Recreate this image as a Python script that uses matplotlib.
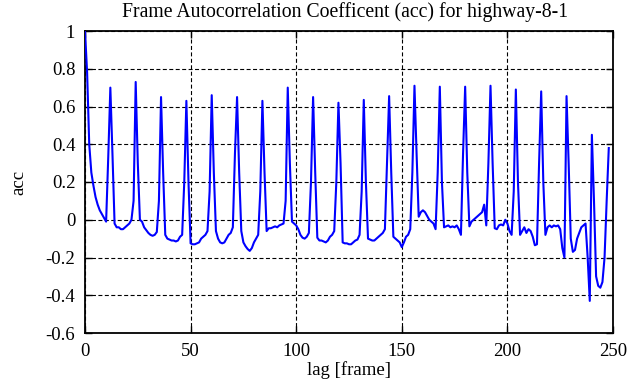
import matplotlib
matplotlib.use("Agg")
import matplotlib.pyplot as plt
from matplotlib.ticker import FuncFormatter

title = "Frame Autocorrelation Coefficent (acc) for highway-8-1"
xlabel = "lag [frame]"
ylabel = "acc"
xticks = [0, 50, 100, 150, 200, 250]
yticks = [-0.6, -0.4, -0.2, 0, 0.2, 0.4, 0.6, 0.8, 1]

# acc values for lag 0..248
acc = [
    1.00, 0.78, 0.40, 0.25, 0.18, 0.12, 0.08, 0.05, 0.03, 0.01, -0.01, 0.33,
    0.70, 0.35, -0.02, -0.04, -0.04, -0.05, -0.05, -0.04, -0.03, -0.02, 0.00, 0.10,
    0.73, 0.30, 0.00, -0.01, -0.04, -0.055, -0.07, -0.08, -0.085, -0.08, -0.065, 0.10,
    0.65, 0.25, -0.08, -0.10, -0.105, -0.11, -0.11, -0.115, -0.11, -0.09, -0.08, 0.20,
    0.63, 0.20, -0.125, -0.13, -0.13, -0.125, -0.12, -0.10, -0.09, -0.08, -0.06, 0.15,
    0.66, 0.25, -0.06, -0.10, -0.12, -0.125, -0.12, -0.10, -0.08, -0.07, -0.04, 0.35,
    0.65, 0.25, -0.06, -0.12, -0.14, -0.155, -0.165, -0.15, -0.12, -0.10, -0.08, 0.15,
    0.63, 0.25, -0.06, -0.045, -0.045, -0.04, -0.035, -0.04, -0.03, -0.025, -0.02, 0.10,
    0.70, 0.30, -0.01, -0.02, -0.03, -0.05, -0.08, -0.095, -0.10, -0.09, -0.07, 0.20,
    0.65, 0.25, -0.095, -0.11, -0.11, -0.115, -0.12, -0.11, -0.09, -0.08, -0.06, 0.20,
    0.62, 0.30, -0.12, -0.125, -0.125, -0.13, -0.13, -0.12, -0.11, -0.105, -0.08, 0.15,
    0.635, 0.20, -0.10, -0.105, -0.11, -0.11, -0.10, -0.09, -0.08, -0.07, -0.05, 0.30,
    0.655, 0.25, -0.09, -0.10, -0.11, -0.12, -0.145, -0.12, -0.09, -0.08, -0.05, 0.25,
    0.71, 0.35, 0.016, 0.04, 0.05, 0.04, 0.02, 0.00, -0.01, -0.02, -0.05, 0.25,
    0.705, 0.20, -0.04, -0.035, -0.03, -0.04, -0.035, -0.04, -0.03, -0.05, -0.08, 0.35,
    0.705, 0.25, -0.035, -0.01, 0.00, 0.01, 0.02, 0.03, 0.04, 0.08, -0.03, 0.30,
    0.71, 0.30, -0.045, -0.05, -0.03, -0.025, -0.03, 0.00, -0.02, -0.06, -0.08, 0.15,
    0.69, 0.20, -0.08, -0.06, -0.04, -0.07, -0.05, -0.06, -0.09, -0.135, -0.13, 0.30,
    0.68, 0.20, -0.08, -0.04, -0.03, -0.04, -0.03, -0.035, -0.03, -0.05, -0.15, -0.20,
    0.655, 0.30, -0.10, -0.17, -0.16, -0.10, -0.07, -0.04, -0.03, -0.02, -0.20, -0.43,
    0.45, 0.10, -0.30, -0.35, -0.36, -0.33, -0.20, 0.10, 0.38,
]
lags = list(range(len(acc)))

plt.rcParams['font.family'] = ['Liberation Serif', 'DejaVu Serif']

fig = plt.figure(figsize=(6.3, 3.87), dpi=100)
ax = fig.add_axes([85/630, 1 - 333/387, (613 - 85)/630, (333 - 31)/387])

ax.plot(lags, acc, color='#0000ff', lw=1.5, zorder=3)

ax.set_xlim(0, 250)
ax.set_ylim(-0.6, 1)
ax.set_xticks(xticks)
ax.set_yticks(yticks)
ax.yaxis.set_major_formatter(FuncFormatter(lambda v, p: ('%g' % round(v, 2))))
ax.xaxis.set_major_formatter(FuncFormatter(lambda v, p: ('%g' % v)))

ax.grid(True, color='black', linestyle=(0, (3.6, 2.2)), lw=0.8)
ax.tick_params(direction='in', top=True, right=True, length=5, width=1,
               labelsize=13.5, colors='black', pad=7)
for s in ax.spines.values():
    s.set_linewidth(1.3)

fig.text(345/630, 1 - 12/387, title, fontsize=14.2, ha='center', va='center')
ax.set_xlabel(xlabel, fontsize=13.5, labelpad=1)
ax.set_ylabel(ylabel, fontsize=13.5, labelpad=13)

fig.savefig("out.png", dpi=100)
